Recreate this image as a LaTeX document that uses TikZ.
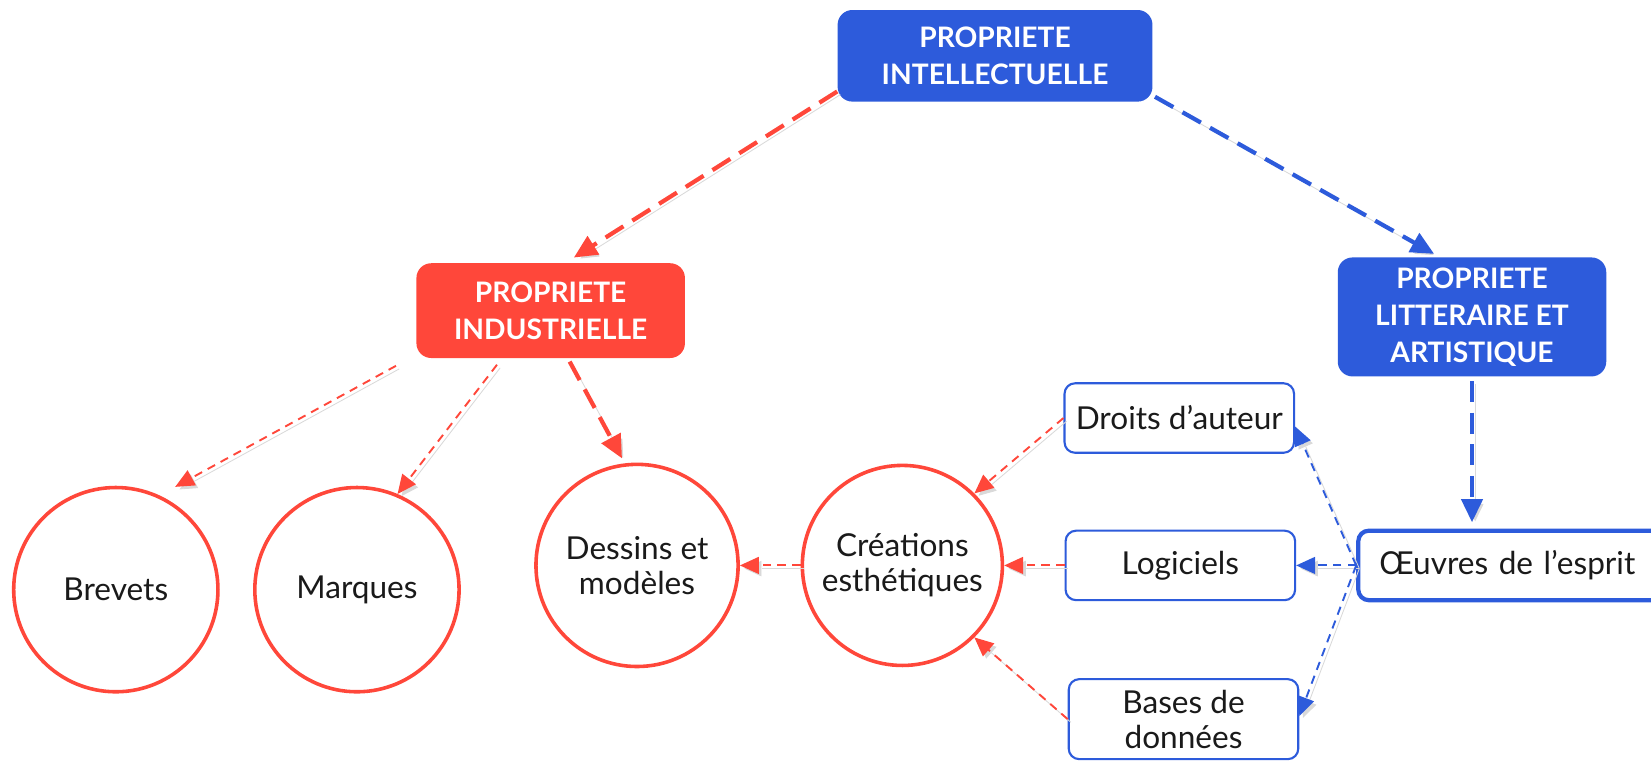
\documentclass[tikz,border=0pt]{standalone}
\usepackage{fontspec}
\setmainfont{Lato}
\usetikzlibrary{arrows.meta}
\definecolor{piblue}{HTML}{2D5BDB}
\definecolor{pired}{HTML}{FF473A}
\definecolor{txt}{HTML}{1A1A1A}
\begin{document}
\begin{tikzpicture}[x=0.5pt, y=-0.5pt,
  titlebox/.style={rounded corners=7pt, text=white, font=\bfseries\fontsize{13.4}{17.5}\selectfont, align=center},
  bluebox/.style={titlebox, fill=piblue},
  redbox/.style={titlebox, fill=pired},
  leafbox/.style={draw=piblue, line width=1pt, fill=white, rounded corners=5pt, text=txt, font=\fontsize{15}{16.5}\selectfont, align=center, minimum width=109pt, minimum height=33pt},
  leafcircle/.style={circle, draw=pired, line width=1.7pt, fill=white, text=txt, font=\fontsize{15}{16.5}\selectfont, align=center, minimum size=96pt, inner sep=0pt},
  shade/.style={preaction={draw=black!15, transform canvas={shift={(1.5pt,-1.5pt)}}}},
  thickarrow/.style={line width=2pt, dash pattern=on 10pt off 5pt, -{Triangle[length=11pt, width=10pt]}, shade},
  thinarrow/.style={line width=0.9pt, dash pattern=on 4pt off 3pt, -{Triangle[length=9pt, width=8pt]}, shade}]
\useasboundingbox (0, 0) rectangle (1568, 723);

% top level
\node[bluebox, minimum width=149.5pt, minimum height=43.5pt] (pi) at (945, 53) {PROPRIETE\\INTELLECTUELLE};
\node[redbox, minimum width=127.5pt, minimum height=45pt] (pind) at (523, 295) {PROPRIETE\\INDUSTRIELLE};
\node[bluebox, minimum width=127.5pt, minimum height=56.5pt] (pla) at (1398, 301) {PROPRIETE\\LITTERAIRE ET\\ARTISTIQUE};

% circles
\node[leafcircle, minimum size=97pt] (brevets) at (110, 560) {Brevets};
\node[leafcircle, minimum size=97pt] (marques) at (339, 560) {Marques};
\node[leafcircle] (dessins) at (605, 537) {Dessins et\\modèles};
\node[leafcircle, minimum size=95pt] (creations) at (857, 537) {Créations\\esthétiques};

% boxes
\node[leafbox] (droits) at (1120, 397) {Droits d’auteur};
\node[leafbox] (logiciels) at (1121, 537) {Logiciels};
\node[leafbox, minimum height=38pt] (bases) at (1124, 683) {Bases de\\données};
\node[leafbox, line width=2pt, anchor=west, text width=170pt, align=left, inner xsep=10pt] (oeuvres) at (1288, 537) {Œuvres de l’esprit};

% connectors
\draw[thickarrow, pired] ([yshift=5pt]pi.south west) -- ([xshift=11pt, yshift=2.5pt]pind.north);
\draw[thickarrow, piblue] ([xshift=1pt, yshift=2.5pt]pi.south east) -- ([xshift=-18pt, yshift=1.5pt]pla.north);
\draw[thickarrow, piblue] ([yshift=-2pt]pla.south) -- ([yshift=3pt]pla.south |- oeuvres.north);

\draw[thinarrow, pired] ([xshift=-9.5pt, yshift=-3.5pt]pind.south west) -- ([shift={(60:7pt)}]brevets.60);
\draw[thinarrow, pired] ([xshift=-25.5pt, yshift=-3pt]pind.south) -- (marques.67);
\draw[thickarrow, pired] ([xshift=9pt, yshift=-1.5pt]pind.south) -- ([shift={(98:2.5pt)}]dessins.98);

\draw[thinarrow, pired] (creations.west) -- (dessins.east);
\draw[thinarrow, pired] (droits.west) -- (creations.45);
\draw[thinarrow, pired] (logiciels.west) -- (creations.east);
\draw[thinarrow, pired] (bases.west) -- (creations.-45);

\draw[thinarrow, piblue] (oeuvres.west) -- ([yshift=-4pt]droits.east);
\draw[thinarrow, piblue] (oeuvres.west) -- (logiciels.east);
\draw[thinarrow, piblue] (oeuvres.west) -- ([yshift=1.5pt]bases.east);
\end{tikzpicture}
\end{document}
